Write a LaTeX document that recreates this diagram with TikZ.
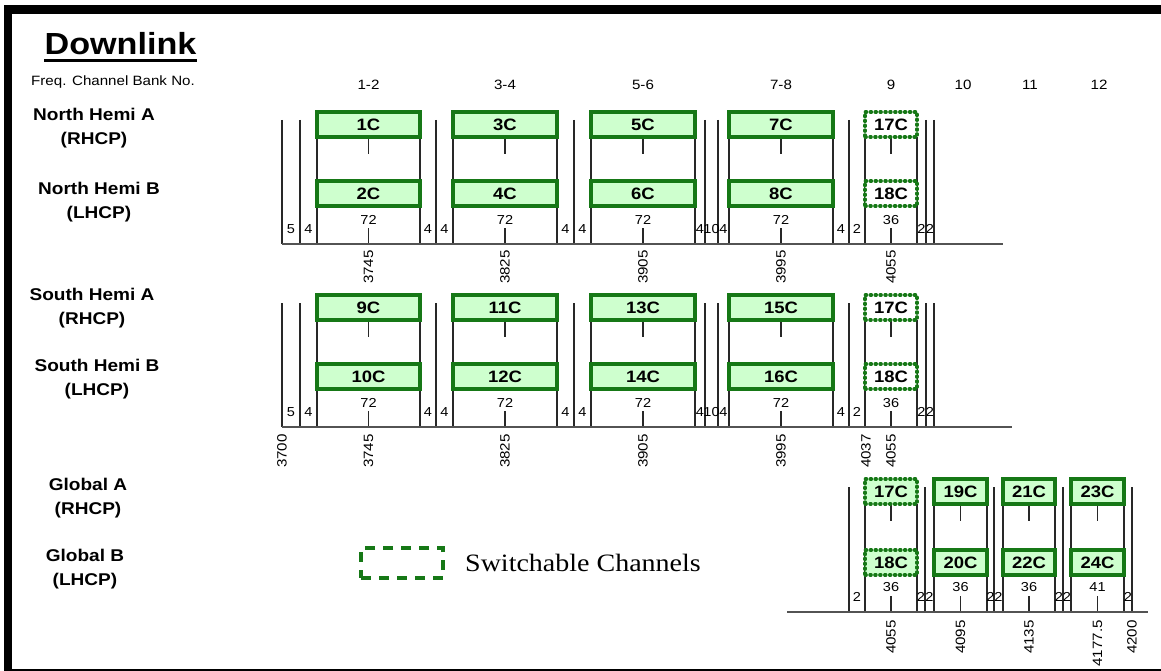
\documentclass[tikz,border=0pt]{standalone}
\usepackage{fontspec}
\setmainfont{Liberation Sans}[FakeStretch=1.12]
\newfontfamily\legendfont{Liberation Serif}[FakeStretch=1.12]
\definecolor{chgreen}{RGB}{22,120,22}
\definecolor{chfill}{RGB}{206,255,206}
\definecolor{lineclr}{RGB}{40,40,40}
\tikzset{
  chan/.style={draw=chgreen, line width=3.2pt, fill=chfill, inner sep=0pt,
    minimum height=25pt, font=\bfseries\fontsize{16.5}{16.5}\selectfont},
  swc/.style={draw=chgreen, line width=3.2pt, dash pattern=on 1.3pt off 3.6pt,
    line cap=round, fill=white, inner sep=0pt, minimum height=25pt,
    font=\bfseries\fontsize{16.5}{16.5}\selectfont},
  vline/.style={line width=1.2pt, draw=lineclr},
  axisline/.style={line width=1.5pt, draw=lineclr!80},
  num/.style={font=\fontsize{13}{13}\selectfont, inner sep=0pt},
  freq/.style={font=\fontsize{13.5}{13.5}\selectfont, rotate=90, anchor=east, inner sep=0pt},
  hdr/.style={font=\fontsize{13.5}{13.5}\selectfont, inner sep=0pt},
  rowlbl/.style={font=\bfseries\fontsize{17}{24}\selectfont, align=center, inner sep=0pt},
}
\begin{document}
\begin{tikzpicture}[x=1pt,y=-1pt]
\useasboundingbox (0,0) rectangle (1161,671);
% frame
\fill[black] (4,5) rectangle (1161,14);
\fill[black] (4,5) rectangle (12,670);
\draw[line width=2pt] (4,669.5) -- (1161,669.5);

% title
\node[font=\bfseries\fontsize{30.5}{30.5}\selectfont, anchor=base, inner sep=0pt] (title) at (120.5,55) {Downlink};
\draw[line width=2.3pt] (title.west |- 0,60.5) -- (title.east |- 0,60.5);
\node[hdr, anchor=west] (freqlbl) at (31,82) {Freq. Channel Bank No.};

% column headers
\foreach \x/\t [count=\i] in {368.5/1-2, 505/3-4, 643/5-6, 781/7-8, 891/9, 963/10, 1030/11, 1099/12}
  \node[hdr] (h\i) at (\x,85) {\t};

% row labels
\node[rowlbl] (nha) at (94,128) {North Hemi A\\(RHCP)};
\node[rowlbl] (nhb) at (99,202) {North Hemi B\\(LHCP)};
\node[rowlbl] (sha) at (92,308.5) {South Hemi A\\(RHCP)};
\node[rowlbl] (shb) at (97,379.5) {South Hemi B\\(LHCP)};
\node[rowlbl] (gla) at (88,498) {Global A\\(RHCP)};
\node[rowlbl] (glb) at (85,569) {Global B\\(LHCP)};

% ---------- rows 1 and 2 (hemi) ----------
\foreach \dy in {0,183} {
  \foreach \x in {282,300,436,574,705,718,849,926,934}
    \draw[vline] (\x,120+\dy) -- (\x,244+\dy);
  \foreach \x in {317,420,453,557,591,695,729,833,865,917}
    \draw[vline] (\x,137+\dy) -- (\x,244+\dy);
  \foreach \x in {368.5,505,643,781,891} {
    \draw[vline] (\x,137+\dy) -- (\x,154+\dy);
    \draw[vline] (\x,228+\dy) -- (\x,244+\dy);
  }
  \foreach \x/\t in {291/5, 308.5/4, 428/4, 444.5/4, 565.5/4, 582.5/4, 700/4, 711.5/10, 723.5/4, 841/4, 857/2, 921.5/2, 930/2}
    \node[num] at (\x,229+\dy) {\t};
  \foreach \x/\t in {368.5/72, 505/72, 643/72, 781/72, 891/36}
    \node[num] at (\x,220+\dy) {\t};
}
\draw[axisline] (282,244) -- (1003,244);
\draw[axisline] (282,427) -- (1012,427);

% frequencies row 1
\foreach \x/\t in {368.5/3745, 505/3825, 643/3905, 781/3995, 891/4055}
  \node[freq] at (\x,250) {\t};
% frequencies row 2
\foreach \x/\t in {282/3700, 368.5/3745, 505/3825, 643/3905, 781/3995, 866/4037, 891/4055}
  \node[freq] at (\x,434) {\t};

% channels row 1
\node[chan, minimum width=103pt] (c1)  at (368.5,124.5) {1C};
\node[chan, minimum width=103pt] (c2)  at (368.5,193.5) {2C};
\node[chan, minimum width=104pt] (c3)  at (505,124.5) {3C};
\node[chan, minimum width=104pt] (c4)  at (505,193.5) {4C};
\node[chan, minimum width=104pt] (c5)  at (643,124.5) {5C};
\node[chan, minimum width=104pt] (c6)  at (643,193.5) {6C};
\node[chan, minimum width=104pt] (c7)  at (781,124.5) {7C};
\node[chan, minimum width=104pt] (c8)  at (781,193.5) {8C};
\node[swc, minimum width=52pt] (n17) at (891,124.5) {17C};
\node[swc, minimum width=52pt] (n18) at (891,193.5) {18C};
% channels row 2
\node[chan, minimum width=103pt] (c9)  at (368.5,307.5) {9C};
\node[chan, minimum width=103pt] (c10) at (368.5,376.5) {10C};
\node[chan, minimum width=104pt] (c11) at (505,307.5) {11C};
\node[chan, minimum width=104pt] (c12) at (505,376.5) {12C};
\node[chan, minimum width=104pt] (c13) at (643,307.5) {13C};
\node[chan, minimum width=104pt] (c14) at (643,376.5) {14C};
\node[chan, minimum width=104pt] (c15) at (781,307.5) {15C};
\node[chan, minimum width=104pt] (c16) at (781,376.5) {16C};
\node[swc, minimum width=52pt] (s17) at (891,307.5) {17C};
\node[swc, minimum width=52pt] (s18) at (891,376.5) {18C};

% ---------- row 3 (global) ----------
\foreach \x in {849,925,994,1063,1132}
  \draw[vline] (\x,487) -- (\x,612);
\foreach \x in {865,917,934,987,1003,1055,1071,1124}
  \draw[vline] (\x,504) -- (\x,612);
\foreach \x in {891,960.5,1029,1097.5} {
  \draw[vline] (\x,504) -- (\x,521);
  \draw[vline] (\x,596) -- (\x,612);
}
\foreach \x/\t in {857/2, 921/2, 929.5/2, 990.5/2, 998.5/2, 1059/2, 1067/2, 1128/2}
  \node[num] at (\x,597) {\t};
\foreach \x/\t in {891/36, 960.5/36, 1029/36, 1097.5/41}
  \node[num] at (\x,587) {\t};
\draw[axisline] (787,612) -- (1148,612);
\foreach \x/\t in {891/4055, 960.5/4095, 1029/4135, 1097.5/4177.5, 1132/4200}
  \node[freq] at (\x,620) {\t};

\node[swc, fill=chfill, minimum width=52pt] (g17) at (891,491.5) {17C};
\node[swc, fill=chfill, minimum width=52pt] (g18) at (891,562.5) {18C};
\node[chan, minimum width=53pt] (c19) at (960.5,491.5) {19C};
\node[chan, minimum width=53pt] (c20) at (960.5,562.5) {20C};
\node[chan, minimum width=52pt] (c21) at (1029,491.5) {21C};
\node[chan, minimum width=52pt] (c22) at (1029,562.5) {22C};
\node[chan, minimum width=53pt] (c23) at (1097.5,491.5) {23C};
\node[chan, minimum width=53pt] (c24) at (1097.5,562.5) {24C};

% legend
\node[draw=chgreen, line width=3.5pt, dash pattern=on 10pt off 8pt,
  minimum width=82pt, minimum height=30pt, inner sep=0pt] (legbox) at (402,563) {};
\node[font=\legendfont\fontsize{25}{25}\selectfont, anchor=west, inner sep=0pt] (legtext) at (465,563) {Switchable Channels};
\end{tikzpicture}
\end{document}
